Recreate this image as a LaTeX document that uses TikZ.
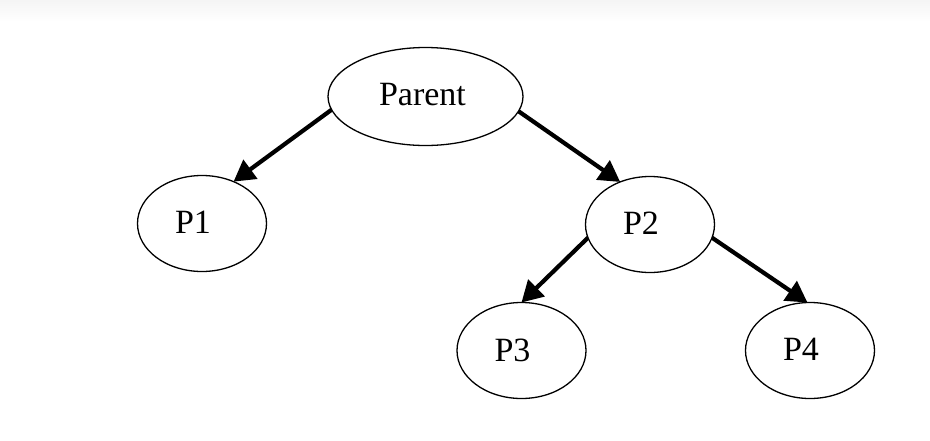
\documentclass[tikz,border=0pt]{standalone}
\usepackage{fontspec}
\setmainfont{Liberation Serif}
\usetikzlibrary{shapes.geometric,arrows.meta}
\begin{document}
\begin{tikzpicture}[x=1pt,y=-1pt,
  oval/.style={ellipse,draw=black,line width=1.3pt,inner sep=0pt,outer sep=0pt,
    font=\fontsize{34}{40}\selectfont},
  child/.style={oval,minimum width=129pt,minimum height=96pt},
  link/.style={line width=4.2pt,-{Triangle[length=21pt,width=23pt]}}]
\useasboundingbox (0,0) rectangle (930,440);
\shade[top color=black!4,bottom color=white] (0,0) rectangle (930,22);
\node[oval,minimum width=195pt,minimum height=98pt] (parent) at (425.5,96.5) {\raisebox{5pt}{Parent}\hspace*{6pt}};
\node[child] (p1) at (202,223.5) {\raisebox{3pt}{P1}\hspace*{18pt}};
\node[child] (p2) at (650,224.5) {\raisebox{3pt}{P2}\hspace*{18pt}};
\node[child] (p3) at (521.5,350.5) {\raisebox{1.5pt}{P3}\hspace*{18pt}};
\node[child] (p4) at (810,350.5) {\raisebox{1.5pt}{P4}\hspace*{18pt}};
\draw[link] (parent.188) -- (p1.53);
\draw[link] (parent.351) -- (p2.125);
\draw[link] (p2.192) -- (p3.90);
\draw[link] (p2.348) -- (p4.93);
\end{tikzpicture}
\end{document}
